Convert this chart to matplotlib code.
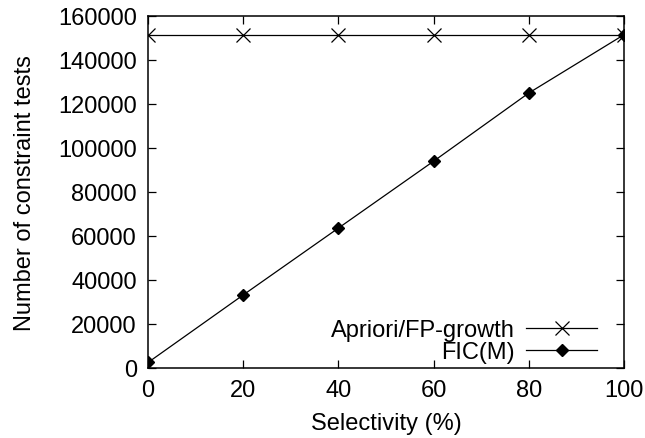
import matplotlib
matplotlib.use('Agg')
import matplotlib.pyplot as plt

plt.rcParams['font.family'] = ['Liberation Sans', 'DejaVu Sans']

selectivity = [0, 20, 40, 60, 80, 100]
apriori_fp = [151500, 151500, 151500, 151500, 151500, 151500]
fic_m = [2500, 33200, 63600, 94000, 125000, 151500]

fig = plt.figure(figsize=(6.45, 4.39), dpi=100)
ax = fig.add_axes([0.2295, 0.1595, 0.7380, 0.8018])

ax.plot(selectivity, apriori_fp, color='black', linewidth=0.9, marker='x',
        markersize=9.5, markeredgewidth=0.9, label='Apriori/FP-growth')
ax.plot(selectivity, fic_m, color='black', linewidth=0.9, marker='D',
        markersize=6, label='FIC(M)')

ax.set_xlim(0, 100)
ax.set_ylim(0, 160000)
ax.set_xticks([0, 20, 40, 60, 80, 100])
ax.set_yticks(range(0, 160001, 20000))
ax.tick_params(direction='in', top=True, right=True, length=6, width=0.9,
               labelsize=17, pad=8)
for s in ax.spines.values():
    s.set_linewidth(1.1)

ax.set_xlabel('Selectivity (%)', fontsize=17, labelpad=8)
ax.set_ylabel('Number of constraint tests', fontsize=17, labelpad=16)

ax.legend(loc='lower right', bbox_to_anchor=(597 / 645, (439 - 364) / 439),
          bbox_transform=fig.transFigure, frameon=False, markerfirst=False,
          fontsize=17, handlelength=3.0, handletextpad=0.5, borderpad=0,
          borderaxespad=0, labelspacing=0.0)

fig.savefig('out.png', dpi=100)
